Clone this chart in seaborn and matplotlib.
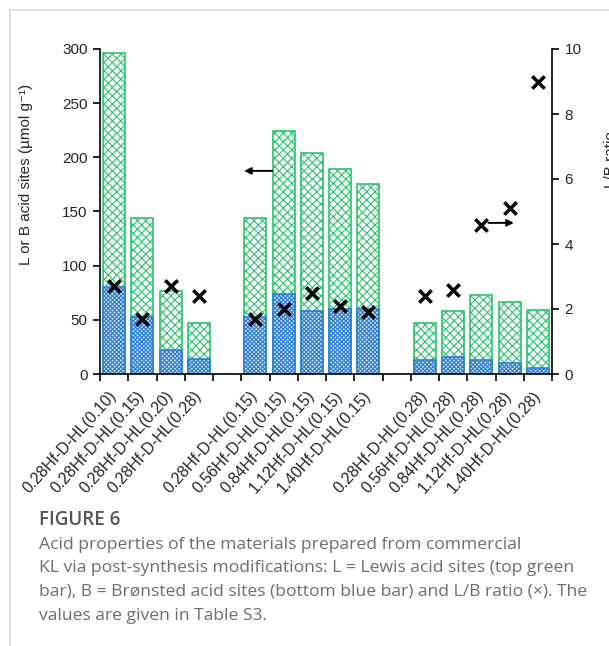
import numpy as np
import pandas as pd
import matplotlib
matplotlib.use("Agg")
import matplotlib.pyplot as plt
import seaborn as sns
from matplotlib.lines import Line2D

sns.set_theme(style="white")
plt.rcParams["font.family"] = ["Liberation Sans", "DejaVu Sans"]
plt.rcParams["hatch.linewidth"] = 0.8

# Samples, grouped by series (empty slots separate the groups)
samples = [
    "0.28Hf-D-HL(0.10)", "0.28Hf-D-HL(0.15)", "0.28Hf-D-HL(0.20)", "0.28Hf-D-HL(0.28)",
    "0.28Hf-D-HL(0.15)", "0.56Hf-D-HL(0.15)", "0.84Hf-D-HL(0.15)", "1.12Hf-D-HL(0.15)", "1.40Hf-D-HL(0.15)",
    "0.28Hf-D-HL(0.28)", "0.56Hf-D-HL(0.28)", "0.84Hf-D-HL(0.28)", "1.12Hf-D-HL(0.28)", "1.40Hf-D-HL(0.28)",
]
slots = [0, 1, 2, 3, 5, 6, 7, 8, 9, 11, 12, 13, 14, 15]

# Acid site densities (umol/g) and L/B ratio
bronsted = [80, 53, 22, 13.5, 53, 74, 58, 60, 60, 13, 16, 12.5, 10.5, 5.5]
lewis = [216, 91, 55, 33.5, 91, 150, 146, 129, 115, 34, 42, 60, 56, 54]
lb_ratio = [2.7, 1.7, 2.7, 2.4, 1.7, 2.0, 2.5, 2.1, 1.9, 2.4, 2.6, 4.6, 5.1, 9.0]

df = pd.DataFrame({
    "pos": np.array(slots) + 0.5,
    "B": bronsted,
    "L": lewis,
    "ratio": lb_ratio,
})
df["total"] = df["B"] + df["L"]

green = "#2BC46C"
blue = "#2C7ED6"

fig = plt.figure(figsize=(6.09, 6.46), dpi=100)
ax = fig.add_axes([100 / 609, 1 - 374 / 646, 452 / 609, 325 / 646])

# Stacked bars: L on top of B (draw the total, then B over its lower part)
sns.barplot(data=df, x="pos", y="total", native_scale=True, width=0.78,
            color="white", edgecolor=green, linewidth=1.2, hatch="xxxx",
            saturation=1, errorbar=None, ax=ax)
sns.barplot(data=df, x="pos", y="B", native_scale=True, width=0.78,
            color="#c9ddf5", edgecolor=blue, linewidth=1.2, hatch="xxxxxxxx",
            saturation=1, errorbar=None, ax=ax)

ax.set_xlim(0, 16)
ax.set_ylim(0, 300)
ax.set_yticks([0, 50, 100, 150, 200, 250, 300])
ax.set_xlabel("")
ax.set_ylabel("")
ax.set_xticks(np.arange(17))
ax.set_xticklabels([""] * 17)
ax.set_xticks(df["pos"], minor=True)
ax.set_xticklabels(samples, minor=True, rotation=48, ha="right",
                   va="center", rotation_mode="anchor", fontsize=11.5)
ax.tick_params(axis="x", which="major", bottom=True, direction="out",
               length=5, width=1.2, color="black")
ax.tick_params(axis="x", which="minor", bottom=True, length=0, pad=14)
ax.tick_params(axis="y", left=True, direction="out", length=5, width=1.2,
               labelsize=11, color="black", pad=4)
for side in ("top", "right"):
    ax.spines[side].set_visible(False)
for side in ("left", "bottom"):
    ax.spines[side].set_color("black")
    ax.spines[side].set_linewidth(1.2)

# L/B ratio on the secondary axis
ax2 = ax.twinx()
sns.scatterplot(data=df, x="pos", y="ratio", marker="x", s=80,
                color="black", linewidth=2.5, ax=ax2, zorder=5)
ax2.set_ylim(0, 10)
ax2.set_xlim(0, 16)
ax2.set_yticks([0, 2, 4, 6, 8, 10])
ax2.set_ylabel("")
ax2.tick_params(axis="y", right=True, direction="out", length=5, width=1.2,
                labelsize=11, color="black", pad=4)
for side in ("top", "left", "bottom"):
    ax2.spines[side].set_visible(False)
ax2.spines["right"].set_color("black")
ax2.spines["right"].set_linewidth(1.2)

# Arrows pointing to the axis each series belongs to
ax.annotate("", xy=(5.1, 187.5), xytext=(6.1, 187.5),
            arrowprops=dict(arrowstyle="-|>", color="black", lw=1.4,
                            mutation_scale=10, shrinkA=0, shrinkB=0))
ax2.annotate("", xy=(14.65, 4.65), xytext=(13.75, 4.65),
             arrowprops=dict(arrowstyle="-|>", color="black", lw=1.4,
                             mutation_scale=10, shrinkA=0, shrinkB=0))

fig.text(26 / 609, 1 - 174 / 646, "L or B acid sites (µmol g⁻¹)",
         rotation=90, ha="center", va="center", fontsize=11)
fig.text(604 / 609, 1 - 160 / 646, "L/B ratio", rotation=90,
         ha="left", va="center", fontsize=11)

# Caption panel frame
fig.add_artist(Line2D([10 / 609, 10 / 609], [0, 1 - 10 / 646],
                      transform=fig.transFigure, color="#dedede", lw=1.5))
fig.add_artist(Line2D([10 / 609, 1], [1 - 10 / 646, 1 - 10 / 646],
                      transform=fig.transFigure, color="#dedede", lw=1.5))

fig.text(39 / 609, 1 - 525 / 646, "FIGURE 6", family="Open Sans",
         fontweight="semibold", fontsize=13.5, color="#555555", va="baseline")
caption = [
    "Acid properties of the materials prepared from commercial",
    "KL via post-synthesis modifications: L = Lewis acid sites (top green",
    "bar), B = Brønsted acid sites (bottom blue bar) and L/B ratio (×). The",
    "values are given in Table S3.",
]
for i, line in enumerate(caption):
    fig.text(39 / 609, 1 - (549 + 23.5 * i) / 646, line, family="Open Sans",
             fontsize=12.6, color="#6e6e6e", va="baseline")

fig.savefig("out.png", dpi=100)
